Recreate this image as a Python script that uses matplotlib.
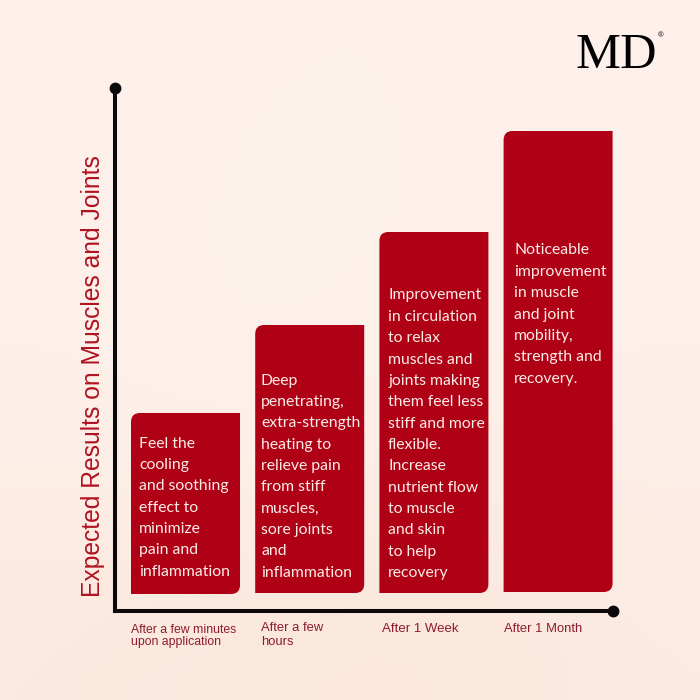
import matplotlib
matplotlib.use('Agg')
import matplotlib.pyplot as plt
import matplotlib.colors as mcolors
import numpy as np
from matplotlib.patches import PathPatch
from matplotlib.path import Path

# Dados
categorias = ['After a few minutes\nupon application', 'After a few\nhours', 'After 1 Week', 'After 1 Month']
alturas = [198, 286, 379, 480]
base_barras = [17, 18, 18, 19]

textos = [
    ['Feel the', 'cooling', 'and soothing', 'effect to', 'minimize', 'pain and', 'inflammation'],
    ['Deep', 'penetrating,', 'extra-strength', 'heating to', 'relieve pain', 'from stiff', 'muscles,',
     'sore joints', 'and', 'inflammation'],
    ['Improvement', 'in circulation', 'to relax', 'muscles and', 'joints making', 'them feel less',
     'stiff and more', 'flexible.', 'Increase', 'nutrient flow', 'to muscle', 'and skin', 'to help', 'recovery'],
    ['Noticeable', 'improvement', 'in muscle', 'and joint', 'mobility,', 'strength and', 'recovery.'],
]

# Posições em pixels da imagem
texto_x = [139, 261, 388, 514]
texto_y0 = [443.5, 380.5, 295.5, 250.5]
rotulo_x = [131, 261, 382, 504]
rotulo_y = [636, 635, 628.5, 628.5]
rotulo_fs = [8.8, 9.4, 9.5, 9.4]
rotulo_ls = [1.08, 1.2, 1.0, 1.0]
linha = 21.35

VERMELHO = '#AF0016'
ROTULO = '#8E1C2E'

# Fundo rosado com manchas claras
fundo_cores = [
    ['#FDF0EA', '#FEF1EC', '#FEF1EC', '#FEF0EB'],
    ['#FDF0EA', '#FEF2EC', '#FEF1EC', '#FEF0EB'],
    ['#FDEFE8', '#FEF1EB', '#FDEEE6', '#FDEEE8'],
    ['#FCE9DF', '#FBE8DC', '#FBE7DA', '#FCEBE2'],
]


def caminho_barra(x0, x1, y0, y1, rx, ry):
    # canto arredondado em cima à esquerda e embaixo à direita
    verts = [(x0, y0), (x1 - rx, y0), (x1, y0), (x1, y0 + ry), (x1, y1), (x0 + rx, y1), (x0, y1),
             (x0, y1 - ry), (x0, y0), (x0, y0)]
    codes = [Path.MOVETO, Path.LINETO, Path.CURVE3, Path.CURVE3, Path.LINETO, Path.LINETO, Path.CURVE3,
             Path.CURVE3, Path.LINETO, Path.CLOSEPOLY]
    return Path(verts, codes)


fig = plt.figure(figsize=(7, 7), dpi=100)

bg = fig.add_axes([0, 0, 1, 1], zorder=0)
rgb = np.array([[mcolors.to_rgb(c) for c in l] for l in fundo_cores])
bg.imshow(rgb, aspect='auto', interpolation='bicubic')
bg.axis('off')

# eixos do gráfico: x de 115 a 613 px, y de 611 a 88 px
ax = fig.add_axes([115 / 700, 1 - 611 / 700, 498 / 700, 523 / 700], zorder=1)
ax.patch.set_alpha(0)
px_cat = 124.2
ax.set_xlim((115 - 185.5) / px_cat, (613 - 185.5) / px_cat)
ax.set_ylim(0, 523)
largura = 109 / px_cat

for i, (h, b) in enumerate(zip(alturas, base_barras)):
    p = caminho_barra(i - largura / 2, i + largura / 2, b, h, 9 / px_cat, 9)
    ax.add_patch(PathPatch(p, facecolor=VERMELHO, edgecolor='none', zorder=2))

for lado in ['top', 'right']:
    ax.spines[lado].set_visible(False)
for lado in ['left', 'bottom']:
    ax.spines[lado].set_linewidth(2.9)
    ax.spines[lado].set_color('#0A0A0A')
ax.set_xticks([])
ax.set_yticks([])
# pontas dos eixos
ax.plot(0, 1, 'o', color='#0A0A0A', ms=7.5, transform=ax.transAxes, clip_on=False, zorder=5)
ax.plot(1, 0, 'o', color='#0A0A0A', ms=7.5, transform=ax.transAxes, clip_on=False, zorder=5)

# texto dentro das barras
for x, y0, linhas in zip(texto_x, texto_y0, textos):
    for n, t in enumerate(linhas):
        fig.text(x / 700, 1 - (y0 + n * linha) / 700, t, color='#FBEDE6', fontsize=11.3,
                 family='Lato', va='center', ha='left', zorder=6)

# rótulos do eixo x
for x, y, t, fs, ls in zip(rotulo_x, rotulo_y, categorias, rotulo_fs, rotulo_ls):
    fig.text(x / 700, 1 - y / 700, t, color=ROTULO, fontsize=fs, family='Liberation Sans',
             va='center', ha='left', linespacing=ls, zorder=6)

fig.text(93 / 700, 1 - 376 / 700, 'Expected Results on Muscles and Joints', color='#B01220',
         fontsize=17.7, family='Liberation Sans', rotation=90, va='center', ha='center', zorder=6)

# logo
fig.text(616.5 / 700, 1 - 55.5 / 700, 'MD', color='black', fontsize=36.4, family='Liberation Serif',
         va='center', ha='center', zorder=6)
fig.text(660.5 / 700, 1 - 36 / 700, '®', color='black', fontsize=5.5, family='Liberation Sans',
         va='center', ha='center', zorder=6)

fig.savefig('out.png', dpi=100)
